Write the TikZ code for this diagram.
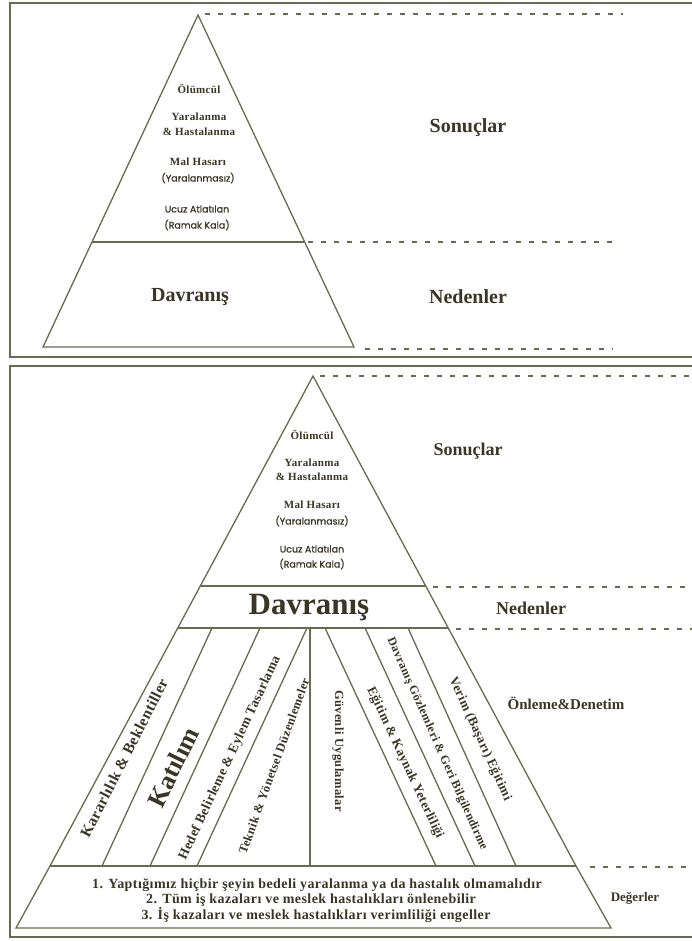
\documentclass[tikz,border=0pt]{standalone}
\usepackage{fontspec}
\setmainfont{Liberation Serif}
\newfontfamily\gothic[FakeBold=0.8]{Poppins}
\newfontfamily\spaced[LetterSpace=3]{Liberation Serif}
\definecolor{ln}{HTML}{6A6A50}
\definecolor{tx}{HTML}{3A3524}
\newcommand\fsz[1]{\fontsize{#1}{#1}\selectfont}
\begin{document}
\begin{tikzpicture}[x=1pt,y=-1pt,
  frame/.style={draw=ln, line width=1.5pt},
  edge/.style={draw=ln, line width=1.3pt},
  dashline/.style={draw=ln, line width=1.3pt, dash pattern=on 5pt off 8pt},
  t/.style={text=tx, inner sep=0pt, anchor=center},
  ser/.style={t, font=\spaced\bfseries\fsz{11}},
  goth/.style={t, font=\gothic\fsz{9.5}},
  side/.style={t, font=\bfseries\fsz{#1}},
  col/.style={t, font=\spaced\bfseries\fsz{#1}}]
\useasboundingbox (0,0) rectangle (692,941);
\fill[white] (0,0) rectangle (692,941);

%================ TOP PANEL ================
\draw[frame] (692,3) -- (10,3) -- (10,357) -- (692,357);
\coordinate (A1) at (198,15);
\coordinate (L1) at (43,347);
\coordinate (R1) at (354,347);
\coordinate (ml1) at (92,242);
\coordinate (mr1) at (304,242);
\draw[edge] (A1) -- (L1) -- (R1) -- cycle;
\draw[edge] (ml1) -- (mr1);
\coordinate (d1a) at (205,14);  \coordinate (d1b) at (623,14);
\coordinate (d2a) at (308,242); \coordinate (d2b) at (618,242);
\coordinate (d3a) at (365,349); \coordinate (d3b) at (613,349);
\draw[dashline] (d1a) -- (d1b);
\draw[dashline] (d2a) -- (d2b);
\draw[dashline] (d3a) -- (d3b);

\node[ser]  (o1)  at (199,89)  {Ölümcül};
\node[ser]  (y1)  at (199,117) {Yaralanma};
\node[ser]  (h1)  at (199,132) {\& Hastalanma};
\node[ser]  (m1)  at (198,162) {Mal Hasarı};
\node[goth] (ym1) at (198,178) {(Yaralanmasız)};
\node[goth] (u1)  at (197,209) {Ucuz Atlatılan};
\node[goth] (r1)  at (197,225) {(Ramak Kala)};
\node[side=20] (dv1) at (190,297) {Davranış};
\node[side=20] (so1) at (468,128) {Sonuçlar};
\node[side=20] (ne1) at (468,297) {Nedenler};

%================ BOTTOM PANEL ================
\draw[frame] (692,366) -- (10,366) -- (10,937) -- (692,937);
\coordinate (A2) at (313,376);
\coordinate (BL) at (50,866);
\coordinate (BR) at (576,866);
\coordinate (FL) at (16,928);
\coordinate (FR) at (611,928);
\coordinate (ul) at (200,586);
\coordinate (ur) at (426,586);
\coordinate (cl) at (178,628);
\coordinate (cr) at (448,628);
\draw[edge] (A2) -- (BL) -- (FL) -- (FR) -- (BR) -- cycle;
\draw[edge] (BL) -- (BR);
\draw[edge] (ul) -- (ur);
\draw[edge] (cl) -- (cr);
% column dividers
\foreach \a/\b [count=\i] in {212/102, 260/150, 307/197, 310/310, 325/436, 365/475, 408/516}{
  \coordinate (ct\i) at (\a,628);
  \coordinate (cb\i) at (\b,866);
  \draw[edge] (ct\i) -- (cb\i);
}
\coordinate (e1a) at (320,376); \coordinate (e1b) at (692,376);
\coordinate (e2a) at (433,587); \coordinate (e2b) at (692,587);
\coordinate (e3a) at (456,629); \coordinate (e3b) at (692,629);
\coordinate (e4a) at (590,867); \coordinate (e4b) at (692,867);
\draw[dashline] (e1a) -- (e1b);
\draw[dashline] (e2a) -- (e2b);
\draw[dashline] (e3a) -- (e3b);
\draw[dashline] (e4a) -- (e4b);

\node[ser]  (o2)  at (312,435) {Ölümcül};
\node[ser]  (y2)  at (312,463) {Yaralanma};
\node[ser]  (h2)  at (312,477) {\& Hastalanma};
\node[ser]  (m2)  at (312,505) {Mal Hasarı};
\node[goth] (ym2) at (312,521) {(Yaralanmasız)};
\node[goth] (u2)  at (312,549) {Ucuz Atlatılan};
\node[goth] (r2)  at (312,564) {(Ramak Kala)};
\node[side=31] (dv2) at (309,608) {Davranış};
\node[side=18] (so2) at (468,451) {Sonuçlar};
\node[side=18] (ne2) at (531,608) {Nedenler};
\node[side=15] (on2) at (566,703) {Önleme\&Denetim};

% column texts
\node[col=15.5, rotate=63] (k1) at (124,758) {Kararlılık \& Beklentiller};
\node[side=26, rotate=64] (k2) at (173,767) {Katılım};
\node[col=13.5, rotate=65] (k3) at (230,758) {Hedef Belirleme \& Eylem Tasarlama};
\node[col=12.5, rotate=70] (k4) at (274,766) {Teknik \& Yönetsel Düzenlemeler};
\node[col=12.5, rotate=-90] (k5) at (338,751) {Güvenli Uygulamalar};
\node[col=13, rotate=-65] (k6) at (405,763) {Eğitim \& Kaynak Yeterliliği};
\node[col=12, rotate=-66] (k7) at (437,744) {Davranış Gözlemleri \& Geri Bilgilendirme};
\node[col=13, rotate=-65.5] (k8) at (480,739) {Verim (Başarı) Eğitimi};

% base texts
\node[col=14] (b1) at (317,885) {1. Yaptığımız hiçbir şeyin bedeli yaralanma ya da hastalık olmamalıdır};
\node[col=14] (b2) at (311,900) {2. Tüm iş kazaları ve meslek hastalıkları önlenebilir};
\node[col=14] (b3) at (316,915) {3. İş kazaları ve meslek hastalıkları verimliliği engeller};
\node[side=13] (dg) at (635,898) {Değerler};
\end{tikzpicture}
\end{document}
